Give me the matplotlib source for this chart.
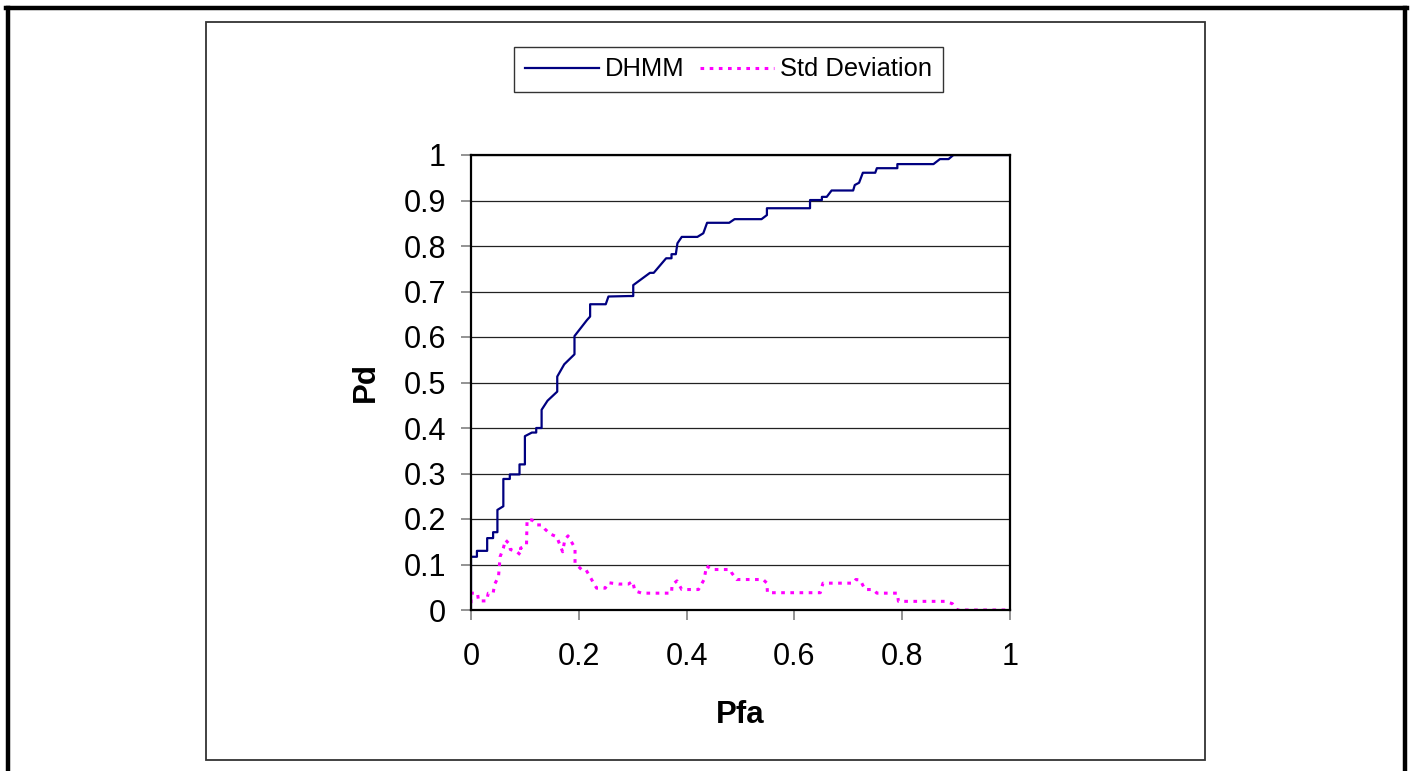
import matplotlib.pyplot as plt
from matplotlib.lines import Line2D
from matplotlib.patches import Rectangle

plt.rcParams['font.family'] = ['Liberation Sans', 'DejaVu Sans']

# DHMM ROC curve (Pfa, Pd)
dhmm_pfa = [0.0, 0.0, 0.011, 0.011, 0.03, 0.03, 0.041, 0.041, 0.049, 0.049, 0.06,
            0.06, 0.072, 0.072, 0.09, 0.09, 0.1, 0.1, 0.113, 0.121, 0.121, 0.131,
            0.131, 0.142, 0.16, 0.16, 0.173, 0.192, 0.192, 0.215, 0.221, 0.221,
            0.25, 0.255, 0.292, 0.301, 0.301, 0.332, 0.339, 0.362, 0.372, 0.372,
            0.38, 0.383, 0.391, 0.42, 0.431, 0.438, 0.479, 0.489, 0.539, 0.549,
            0.549, 0.629, 0.629, 0.651, 0.651, 0.66, 0.669, 0.709, 0.712, 0.72,
            0.727, 0.75, 0.753, 0.791, 0.791, 0.858, 0.87, 0.886, 0.895, 1.0]
dhmm_pd = [0.0, 0.117, 0.117, 0.13, 0.13, 0.158, 0.158, 0.171, 0.171, 0.22, 0.228,
           0.288, 0.288, 0.298, 0.298, 0.32, 0.32, 0.382, 0.39, 0.39, 0.4, 0.4,
           0.44, 0.46, 0.48, 0.513, 0.54, 0.562, 0.602, 0.637, 0.645, 0.672,
           0.672, 0.689, 0.69, 0.69, 0.714, 0.741, 0.741, 0.773, 0.773, 0.782,
           0.782, 0.806, 0.82, 0.82, 0.828, 0.851, 0.851, 0.859, 0.859, 0.868,
           0.883, 0.883, 0.901, 0.901, 0.908, 0.908, 0.922, 0.922, 0.934, 0.939,
           0.961, 0.961, 0.971, 0.971, 0.98, 0.98, 0.991, 0.991, 1.0, 1.0]

# Standard deviation of Pd
std_pfa = [0.0, 0.0, 0.012, 0.014, 0.029, 0.032, 0.041, 0.044, 0.051, 0.054, 0.06,
           0.064, 0.071, 0.073, 0.085, 0.092, 0.092, 0.103, 0.104, 0.113, 0.122,
           0.131, 0.137, 0.147, 0.159, 0.17, 0.174, 0.18, 0.193, 0.193, 0.205,
           0.213, 0.233, 0.249, 0.255, 0.274, 0.292, 0.3, 0.304, 0.317, 0.354,
           0.372, 0.373, 0.382, 0.391, 0.422, 0.432, 0.434, 0.437, 0.447, 0.481,
           0.484, 0.493, 0.542, 0.549, 0.55, 0.648, 0.653, 0.709, 0.714, 0.722,
           0.731, 0.746, 0.753, 0.791, 0.793, 0.879, 0.893, 0.902, 1.0]
std_val = [0.015, 0.037, 0.037, 0.02, 0.02, 0.037, 0.037, 0.057, 0.073, 0.117, 0.136,
           0.154, 0.145, 0.133, 0.128, 0.121, 0.136, 0.143, 0.198, 0.198, 0.187,
           0.187, 0.178, 0.167, 0.161, 0.128, 0.154, 0.163, 0.136, 0.103, 0.089,
           0.089, 0.048, 0.048, 0.06, 0.057, 0.057, 0.063, 0.042, 0.037, 0.037,
           0.037, 0.055, 0.064, 0.045, 0.045, 0.066, 0.077, 0.097, 0.089, 0.089,
           0.081, 0.067, 0.067, 0.059, 0.038, 0.038, 0.059, 0.059, 0.067, 0.066,
           0.045, 0.045, 0.037, 0.037, 0.019, 0.019, 0.014, 0.0, 0.0]

x_ticks = [0, 0.2, 0.4, 0.6, 0.8, 1]
x_tick_labels = ['0', '0.2', '0.4', '0.6', '0.8', '1']
y_ticks = [0, 0.1, 0.2, 0.3, 0.4, 0.5, 0.6, 0.7, 0.8, 0.9, 1]
y_tick_labels = ['0', '0.1', '0.2', '0.3', '0.4', '0.5', '0.6', '0.7', '0.8', '0.9', '1']

fig = plt.figure(figsize=(14.13, 7.71), dpi=100)
W, H = 1413, 771

# outer frame (top, left, right) and inner chart box
fig.add_artist(Line2D([8 / W, 8 / W], [0, 1 - 8 / H], color='black', lw=3.2))
fig.add_artist(Line2D([1405 / W, 1405 / W], [0, 1 - 8 / H], color='black', lw=3.2))
fig.add_artist(Line2D([6 / W, 1407 / W], [1 - 8 / H, 1 - 8 / H], color='black', lw=3.2))
fig.add_artist(Rectangle((206 / W, 1 - 760 / H), 999 / W, 738 / H, fill=False,
                         edgecolor='#333333', lw=1.3, transform=fig.transFigure))

ax = fig.add_axes([471 / W, 1 - 610 / H, 539 / W, 455 / H])
ax.plot(dhmm_pfa, dhmm_pd, color='#000080', lw=1.6, label='DHMM')
ax.plot(std_pfa, std_val, color='#ff00ff', lw=2.2, linestyle=(0, (1.2, 1.8)),
        label='Std Deviation')

ax.set_xlim(0, 1)
ax.set_ylim(0, 1)
ax.set_xticks(x_ticks)
ax.set_xticklabels(x_tick_labels)
ax.set_yticks(y_ticks)
ax.set_yticklabels(y_tick_labels)
ax.tick_params(axis='both', labelsize=22, length=7, width=1.2, color='#808080')
ax.tick_params(axis='y', pad=11)
ax.tick_params(axis='x', pad=16)
ax.grid(True, axis='y', color='#222222', lw=0.9)
ax.set_axisbelow(True)
for side in ['left', 'bottom', 'top', 'right']:
    ax.spines[side].set_color('black')
    ax.spines[side].set_linewidth(1.6)

ax.set_xlabel('Pfa', fontsize=22.5, fontweight='bold', labelpad=20)
ax.set_ylabel('Pd', fontsize=22.5, fontweight='bold', labelpad=16)

leg = fig.legend(loc='center', bbox_to_anchor=(728.5 / W, 1 - 69.5 / H), ncol=2,
                 fontsize=18.4, frameon=True, fancybox=False, handlelength=2.9,
                 handletextpad=0.25, columnspacing=0.6, borderpad=0.4)
leg.get_frame().set_edgecolor('black')
leg.get_frame().set_linewidth(1.0)

fig.savefig('out.png', dpi=100)
